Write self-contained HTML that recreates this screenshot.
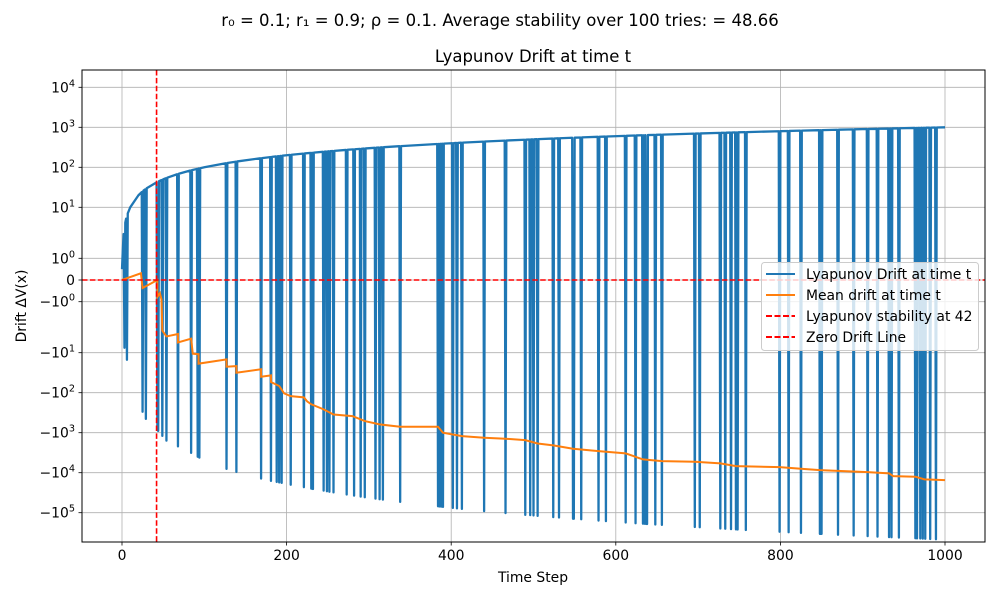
<!DOCTYPE html>
<html><head><meta charset="utf-8"><style>
html,body{margin:0;padding:0;background:#fff;}
svg{display:block;font-family:"DejaVu Sans","Liberation Sans",sans-serif;}
</style></head><body>
<svg id="chart" width="1000" height="600" viewBox="0 0 1000 600" xmlns="http://www.w3.org/2000/svg">
<rect width="1000" height="600" fill="#fff"/>
<text x="500" y="26" text-anchor="middle" font-size="16.5">r₀ = 0.1; r₁ = 0.9; ρ = 0.1. Average stability over 100 tries: = 48.66</text>
<text x="533" y="62" text-anchor="middle" font-size="16.5">Lyapunov Drift at time t</text>
<g id="grid"></g>
<g id="plot"></g>
<rect x="82" y="70" width="903" height="472" fill="none" stroke="#000" stroke-width="1"/>
<g id="ticks"></g>
<text x="533" y="582" text-anchor="middle" font-size="13.9">Time Step</text>
<text x="26" y="306" text-anchor="middle" font-size="13.9" transform="rotate(-90 26 306)">Drift ΔV(x)</text>
<g id="legend">
<rect x="761.5" y="262.5" width="217" height="88" rx="3" fill="#fff" fill-opacity="0.8" stroke="#ccc"/>
<line x1="766" y1="274" x2="795" y2="274" stroke="#1f77b4" stroke-width="2"/>
<text x="806" y="279" font-size="13.9">Lyapunov Drift at time t</text>
<line x1="766" y1="295" x2="795" y2="295" stroke="#ff7f0e" stroke-width="2"/>
<text x="806" y="300" font-size="13.9">Mean drift at time t</text>
<line x1="766" y1="316" x2="795" y2="316" stroke="#ff0000" stroke-width="2" stroke-dasharray="6,2.5"/>
<text x="806" y="321" font-size="13.9">Lyapunov stability at 42</text>
<line x1="766" y1="337" x2="795" y2="337" stroke="#ff0000" stroke-width="2" stroke-dasharray="6,2.5"/>
<text x="806" y="342" font-size="13.9">Zero Drift Line</text>
</g>
</svg>
<script>
const xTicks=[0,200,400,600,800,1000];
const yTicks=[10000,1000,100,10,1,0,-1,-10,-100,-1000,-10000,-100000];
const yTickExp=[4,3,2,1,0,null,0,1,2,3,4,5];
const envT=[0,1,2,3,5,10,20,50,100,200,400,700,1000];
const envV=[0.5,1.5,3,4,6,10,20,50,100,200,400,700,1000];
const spikeT=[3,6,25,29,43,44,49,54,68,84,92,94,127,139,169,181,188,191,194,205,221,230,232,245,249,252,257,273,282,290,295,308,313,317,338,384,386,388,390,402,407,413,440,466,490,496,500,505,524,531,548,549,558,579,588,612,624,633,635,637,638,648,656,696,702,727,733,740,746,748,758,799,810,825,848,850,870,889,906,918,932,935,944,964,966,970,973,976,982,989];
const spikeV=[-8,-15,-300,-450,-830,-900,-1200,-1580,-2200,-3200,-4000,-4200,-8000,-9500,-14000,-16000,-17000,-17500,-18000,-20000,-23000,-25000,-25500,-28000,-29000,-30000,-31000,-35000,-37500,-39500,-41000,-44500,-46000,-47000,-53500,-69000,-70000,-70500,-71500,-76000,-78000,-80000,-91000,-102000,-113000,-115000,-117000,-120000,-129000,-132000,-141000,-141500,-146000,-157000,-162000,-176000,-183000,-188000,-189000,-190000,-191000,-197000,-202000,-227000,-231000,-248000,-252000,-257000,-261000,-263000,-270000,-300000,-308000,-320000,-338000,-339000,-355000,-371000,-385000,-396000,-408000,-410000,-418000,-436000,-438000,-442000,-445000,-447000,-453000,-460000];
const meanT=[0,23,25,43,43,46,48,49,54,68,68,84,86,93,93,127,127,139,139,169,169,181,181,191,197,205,221,225,230,245,257,280,295,313,338,384,390,413,440,466,490,505,524,548,579,612,633,656,696,727,746,799,825,848,906,932,937,964,975,1000];
const meanV=[0,0.31,-0.37,0,-0.78,-0.61,-0.9,-3.7,-4.8,-4.3,-6.3,-5.3,-10.6,-10.9,-18.8,-14.7,-22.4,-21.6,-31.6,-26,-40,-37,-54,-68,-104,-122,-131,-165,-195,-261,-350,-385,-513,-620,-708,-708,-1000,-1217,-1334,-1413,-1531,-1860,-2078,-2512,-2884,-3292,-4650,-5129,-5310,-5855,-6840,-7244,-7943,-8610,-9660,-10400,-12160,-12590,-14700,-15310];
const stabilityT=42;

const NS='http://www.w3.org/2000/svg';
function X(t){return 122+t*0.823;}
function Y(v){const a=Math.abs(v);let g;
 if(a<=1)g=a*21.7;else if(a<=10)g=21.7+51*Math.log10(a);else g=72.7+40*(Math.log10(a)-1);
 return 280-(v<0?-g:g);}
function mk(tag,attrs,parent){const e=document.createElementNS(NS,tag);for(const k in attrs)e.setAttribute(k,attrs[k]);parent.appendChild(e);return e;}
function envAt(t){for(let i=1;i<envT.length;i++){if(t<=envT[i]){const f=(t-envT[i-1])/(envT[i]-envT[i-1]);return envV[i-1]+f*(envV[i]-envV[i-1]);}}return envV[envV.length-1];}

const grid=document.getElementById('grid'),plot=document.getElementById('plot'),ticks=document.getElementById('ticks');
xTicks.forEach(t=>{const l=mk('line',{x1:X(t),x2:X(t),y1:70,y2:542,stroke:'#b0b0b0','stroke-width':0.8},grid);
 
 const k=mk('line',{x1:X(t),x2:X(t),y1:542,y2:545.5,stroke:'#000','stroke-width':0.8},ticks);
 
 const tx=mk('text',{x:X(t),y:560,'text-anchor':'middle','font-size':13.9},ticks);tx.textContent=t;
 });
yTicks.forEach((v,i)=>{const y=Y(v);
 const l=mk('line',{x1:82,x2:985,y1:y,y2:y,stroke:'#b0b0b0','stroke-width':0.8},grid);
 
 const k=mk('line',{x1:78.5,x2:82,y1:y,y2:y,stroke:'#000','stroke-width':0.8},ticks);
 
 const tx=mk('text',{x:75,y:y+5,'text-anchor':'end','font-size':13.9},ticks);
 
 if(yTickExp[i]===null){tx.textContent='0';}
 else{const s=mk('tspan',{},tx);s.textContent=(v<0?'−':'')+'10';
  const e=mk('tspan',{dy:-6,'font-size':9.7},tx);e.textContent=yTickExp[i];}});

// blue series
const pts=[];const sp={};spikeT.forEach((t,i)=>sp[t]=spikeV[i]);
const times=new Set([...envT]);spikeT.forEach(t=>{times.add(t);times.add(t-1);times.add(t+1);});
[...times].filter(t=>t>=0&&t<=1000).sort((a,b)=>a-b).forEach(t=>{const v=(t in sp)?sp[t]:envAt(t);pts.push(X(t).toFixed(2)+','+Y(v).toFixed(2));});
const bl=mk('polyline',{points:pts.join(' '),fill:'none',stroke:'#1f77b4','stroke-width':2.3,'stroke-linejoin':'round'},plot);

// mean
const mp=meanT.map((t,i)=>X(t).toFixed(2)+','+Y(meanV[i]).toFixed(2));
const ml=mk('polyline',{points:mp.join(' '),fill:'none',stroke:'#ff7f0e','stroke-width':2},plot);

// reference lines
const vl=mk('line',{x1:X(stabilityT),x2:X(stabilityT),y1:70,y2:542,stroke:'#ff0000','stroke-width':1.6,'stroke-dasharray':'5.5,2.4'},plot);

const hl=mk('line',{x1:82,x2:985,y1:Y(0),y2:Y(0),stroke:'#ff0000','stroke-width':1.6,'stroke-dasharray':'5.5,2.4'},plot);

</script>
</body></html>
